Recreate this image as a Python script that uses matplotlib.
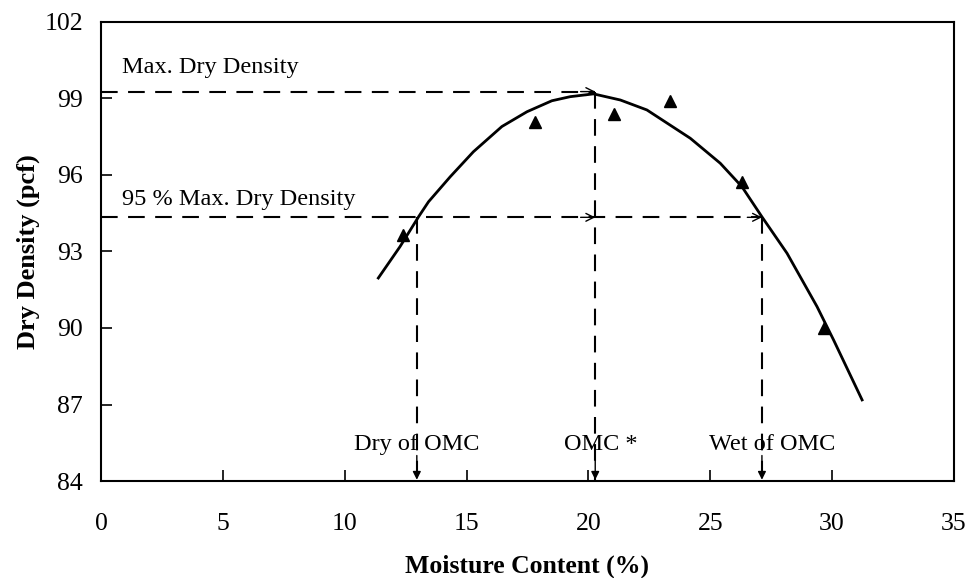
import matplotlib
matplotlib.use("Agg")
import matplotlib.pyplot as plt

# compaction curve
curve_x = [11.38, 12.27, 13.03, 13.44, 14.33, 15.28, 16.45, 17.48, 18.50, 19.25, 20.21,
           21.31, 22.40, 24.18, 25.41, 26.30, 27.12, 28.15, 29.38, 30.06, 31.23]
curve_y = [91.96, 93.19, 94.36, 94.95, 95.93, 96.91, 97.90, 98.48, 98.91, 99.07, 99.18,
           98.94, 98.55, 97.44, 96.46, 95.54, 94.36, 92.93, 90.84, 89.53, 87.18]

# measured points
test_x = [12.41, 17.82, 21.03, 23.33, 26.30, 29.65]
test_y = [93.65, 98.09, 98.39, 98.91, 95.74, 89.99]

max_dd = 99.27
dd_95 = 94.34
omc = 20.28
dry_omc = 12.96
wet_omc = 27.12

x_ticks = [0, 5, 10, 15, 20, 25, 30, 35]
y_ticks = [84, 87, 90, 93, 96, 99, 102]

plt.rcParams['font.family'] = ['Liberation Serif', 'DejaVu Serif']

fig = plt.figure(figsize=(9.69, 5.78), dpi=100)
ax = fig.add_axes([0.1042, 0.1678, 0.8803, 0.7942])

dash = dict(color='black', lw=1.5, ls=(0, (8, 5)))

# horizontal guide lines
ax.plot([0, omc], [max_dd, max_dd], **dash)
ax.plot([0, wet_omc], [dd_95, dd_95], **dash)
# vertical guide lines
ax.plot([omc, omc], [max_dd, 84], **dash)
ax.plot([dry_omc, dry_omc], [dd_95, 84], **dash)
ax.plot([wet_omc, wet_omc], [dd_95, 84], **dash)

# small arrow heads
head = dict(arrowstyle='->', color='black', lw=1.0, mutation_scale=14, shrinkA=0, shrinkB=0)
for xe, ye in [(omc, max_dd), (omc, dd_95), (wet_omc, dd_95)]:
    ax.annotate('', xy=(xe, ye), xytext=(xe - 0.6, ye), arrowprops=head)
vhead = dict(arrowstyle='-|>', color='black', lw=1.0, mutation_scale=12, shrinkA=0, shrinkB=0)
for xe in [dry_omc, omc, wet_omc]:
    ax.annotate('', xy=(xe, 84.05), xytext=(xe, 85.0), arrowprops=vhead)

ax.plot(curve_x, curve_y, color='black', lw=2.0)
ax.plot(test_x, test_y, ls='none', marker='^', ms=9, color='black')

ax.text(0.86, 100.2, 'Max. Dry Density', fontsize=17.5, va='center', ha='left')
ax.text(0.86, 95.05, '95 % Max. Dry Density', fontsize=17.5, va='center', ha='left')
ax.text(dry_omc, 85.45, 'Dry of OMC', fontsize=17.5, va='center', ha='center')
ax.text(20.5, 85.45, 'OMC *', fontsize=17.5, va='center', ha='center')
ax.text(27.55, 85.45, 'Wet of OMC', fontsize=17.5, va='center', ha='center')

ax.set_xlim(0, 35)
ax.set_ylim(84, 102)
ax.set_xticks(x_ticks)
ax.set_yticks(y_ticks)
ax.tick_params(direction='in', length=8, width=1.2, labelsize=18.5)
ax.tick_params(axis='x', pad=23)
ax.tick_params(axis='y', pad=13)
for s in ax.spines.values():
    s.set_linewidth(1.5)

ax.set_xlabel('Moisture Content (%)', fontsize=18.5, fontweight='bold', labelpad=14)
ax.set_ylabel('Dry Density (pcf)', fontsize=19, fontweight='bold', labelpad=3)

fig.savefig('out.png', dpi=100)
